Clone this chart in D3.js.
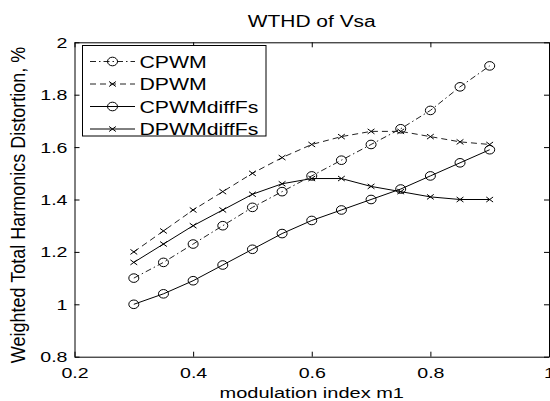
<!DOCTYPE html>
<html>
<head>
<meta charset="utf-8">
<script src="https://cdn.jsdelivr.net/npm/d3@7"></script>
<style>
  html, body { margin: 0; padding: 0; background: #fff; }
  svg text { font-family: "Liberation Sans", Arial, sans-serif; fill: #000; }
</style>
</head>
<body>
<div id="chart"></div>
<script>
// modulation index samples
const mIndex = [0.3, 0.35, 0.4, 0.45, 0.5, 0.55, 0.6, 0.65, 0.7, 0.75, 0.8, 0.85, 0.9];

// WTHD values, %
const cpwm      = [1.10, 1.16, 1.23, 1.30, 1.37, 1.43, 1.49, 1.55, 1.61, 1.67, 1.74, 1.83, 1.91];
const dpwm      = [1.20, 1.28, 1.36, 1.43, 1.50, 1.56, 1.61, 1.64, 1.66, 1.66, 1.64, 1.62, 1.61];
const cpwmDiff  = [1.00, 1.04, 1.09, 1.15, 1.21, 1.27, 1.32, 1.36, 1.40, 1.44, 1.49, 1.54, 1.59];
const dpwmDiff  = [1.16, 1.23, 1.30, 1.36, 1.42, 1.46, 1.48, 1.48, 1.45, 1.43, 1.41, 1.40, 1.40];

const seriesNames = ["CPWM", "DPWM", "CPWMdiffFs", "DPWMdiffFs"];

// tick labels
const xTicks = [0.2, 0.4, 0.6, 0.8, 1];
const yTicks = [0.8, 1, 1.2, 1.4, 1.6, 1.8, 2];

const W = 550, H = 401;
// plot box edges
const boxL = 74.5, boxR = 549, boxT = 42.3, boxB = 356.7;
// the picture is stretched sideways, so is the text
const stretch = 1.4;

const svg = d3.select("#chart").append("svg")
    .attr("width", W)
    .attr("height", H);

const x = d3.scaleLinear().domain([0.2, 1]).range([boxL, boxR]);
const y = d3.scaleLinear().domain([0.8, 2]).range([boxB, boxT]);

const fmt = d => String(+d.toFixed(1));

// axes, matlab style: ticks point inward on all four sides
let gx = svg.append("g")
    .attr("transform", `translate(0,${boxB})`)
    .call(d3.axisBottom(x).tickValues(xTicks).tickFormat(fmt)
        .tickSizeInner(-5).tickSizeOuter(0).tickPadding(0));
gx.selectAll("text")
    .attr("y", 0).attr("dy", 0)
    .attr("font-size", 14)
    .attr("transform", `translate(0,21.5) scale(${stretch},1)`);

let gy = svg.append("g")
    .attr("transform", `translate(${boxL},0)`)
    .call(d3.axisLeft(y).tickValues(yTicks).tickFormat(fmt)
        .tickSizeInner(-5).tickSizeOuter(0).tickPadding(0));
gy.selectAll("text")
    .attr("x", 0).attr("dy", "0.36em")
    .attr("font-size", 14)
    .attr("transform", `translate(-7,0) scale(${stretch},1)`);

svg.append("g")
    .attr("transform", `translate(0,${boxT})`)
    .call(d3.axisTop(x).tickValues(xTicks).tickFormat("")
        .tickSizeInner(-5).tickSizeOuter(0));

svg.append("g")
    .attr("transform", `translate(${boxR},0)`)
    .call(d3.axisRight(y).tickValues(yTicks).tickFormat("")
        .tickSizeInner(-5).tickSizeOuter(0));

svg.selectAll(".domain, .tick line")
    .attr("stroke", "#000")
    .attr("stroke-width", 1);

// title and axis labels
svg.append("text")
    .attr("text-anchor", "middle")
    .attr("font-size", 16)
    .attr("transform", `translate(${(boxL + boxR) / 2},26.5) scale(1.31,1)`)
    .text("WTHD of Vsa");

svg.append("text")
    .attr("text-anchor", "middle")
    .attr("font-size", 15.5)
    .attr("transform", `translate(${(boxL + boxR) / 2},397.5) scale(1.29,1)`)
    .text("modulation index m1");

svg.append("text")
    .attr("text-anchor", "middle")
    .attr("font-size", 18)
    .attr("transform", `translate(25,205) scale(1.12,1) rotate(-90)`)
    .text("Weighted Total Harmonics Distortion, %");

// series styles
const series = [
    {name: seriesNames[0], values: cpwm,     dash: "6,3,1.5,3", marker: "circle"},
    {name: seriesNames[1], values: dpwm,     dash: "6,4",       marker: "cross"},
    {name: seriesNames[2], values: cpwmDiff, dash: null,        marker: "circle"},
    {name: seriesNames[3], values: dpwmDiff, dash: null,        marker: "cross"}
];

const line = d3.line()
    .x((d, i) => x(mIndex[i]))
    .y(d => y(d));

// marker drawer, shared with the legend
function drawMarker(g, kind, cx, cy) {
    if (kind === "circle") {
        g.append("ellipse")
            .attr("cx", cx).attr("cy", cy)
            .attr("rx", 5).attr("ry", 4.3)
            .attr("fill", "none")
            .attr("stroke", "#000")
            .attr("stroke-width", 1);
    } else {
        g.append("path")
            .attr("d", `M${cx - 3.4},${cy - 2.5}L${cx + 3.4},${cy + 2.5}` +
                       `M${cx - 3.4},${cy + 2.5}L${cx + 3.4},${cy - 2.5}`)
            .attr("stroke", "#000")
            .attr("stroke-width", 1);
    }
}

const plot = svg.append("g");
series.forEach(s => {
    plot.append("path")
        .datum(s.values)
        .attr("d", line)
        .attr("fill", "none")
        .attr("stroke", s.dash ? "#222" : "#000")
        .attr("stroke-width", 1)
        .attr("stroke-dasharray", s.dash);
    let mg = plot.append("g");
    s.values.forEach((v, i) => drawMarker(mg, s.marker, x(mIndex[i]), y(v)));
});

// legend box
const leg = svg.append("g");
leg.append("rect")
    .attr("x", 82.5).attr("y", 45.5)
    .attr("width", 183.5).attr("height", 90.5)
    .attr("fill", "#fff")
    .attr("stroke", "#000")
    .attr("stroke-width", 1);

series.forEach((s, i) => {
    let cy = 61.5 + i * 22.5;
    leg.append("line")
        .attr("x1", 90).attr("x2", 135)
        .attr("y1", cy).attr("y2", cy)
        .attr("stroke", s.dash ? "#222" : "#000")
        .attr("stroke-width", 1)
        .attr("stroke-dasharray", s.dash);
    drawMarker(leg, s.marker, 112.5, cy);
    leg.append("text")
        .attr("font-size", 17)
        .attr("transform", `translate(139.5,${cy + 6}) scale(1.25,1)`)
        .text(s.name);
});
</script>
</body>
</html>
